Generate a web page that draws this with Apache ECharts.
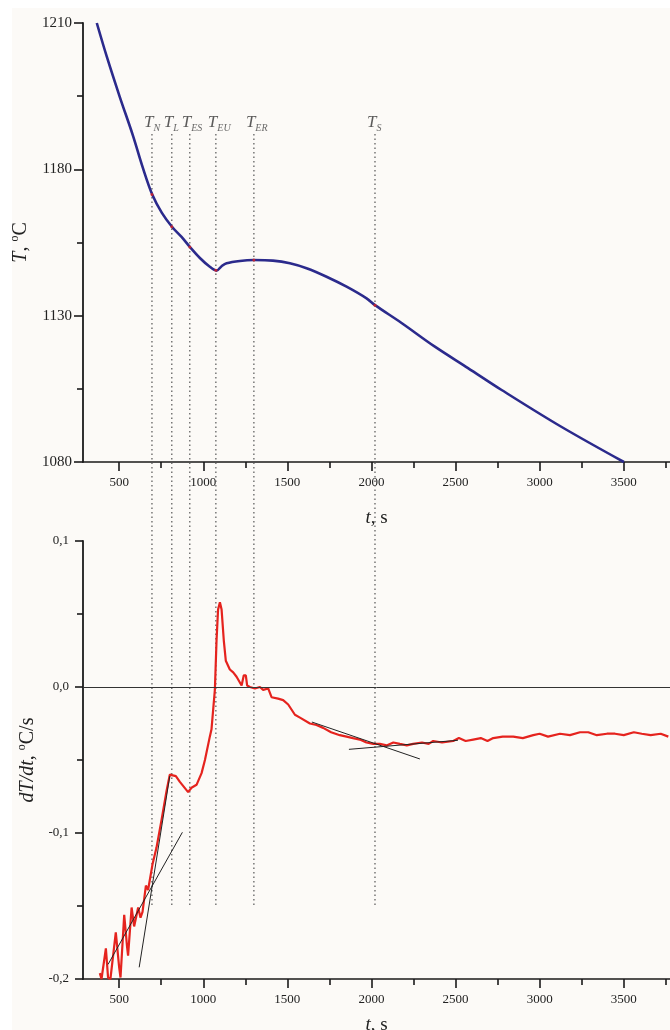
<!DOCTYPE html>
<html><head><meta charset="utf-8">
<script src="https://cdn.jsdelivr.net/npm/echarts@6/dist/echarts.min.js"></script>
<style>
html,body{margin:0;padding:0;background:#fff;}
#bg{position:absolute;left:12px;top:8px;width:658px;height:1022px;background:#fcfaf7;}
#chart{position:absolute;left:0;top:0;width:670px;height:1030px;}
</style></head><body>
<div id="bg"></div><div id="chart"></div>
<script>
// ---- data ----
const tempTimes  = [367, 427, 504, 581, 641, 698, 754, 815, 871, 920, 980, 1039, 1079, 1109, 1139, 1218, 1301, 1414, 1515, 1614, 1733, 1852, 1971, 2021, 2179, 2377, 2574, 2774, 3121, 3501];
const tempValues = [1230.0, 1218.4, 1204.7, 1191.7, 1180.5, 1171.2, 1165.1, 1160.3, 1156.9, 1153.5, 1149.7, 1146.7, 1145.4, 1146.9, 1147.9, 1148.7, 1149.0, 1148.8, 1147.9, 1146.2, 1143.3, 1139.9, 1135.9, 1133.6, 1127.5, 1119.4, 1112.1, 1104.6, 1092.3, 1080.0];

const rateTimes  = [385, 395, 421, 434, 448, 480, 500, 508, 530, 547, 553, 574, 589, 613, 627, 639, 659, 672, 682, 699, 722, 752, 782, 801, 837, 861, 910, 930, 960, 990, 1010, 1039, 1049, 1069, 1079, 1088, 1099, 1109, 1122, 1134, 1158, 1178, 1198, 1228, 1241, 1253, 1261, 1277, 1307, 1337, 1356, 1386, 1406, 1445, 1475, 1505, 1545, 1575, 1634, 1673, 1713, 1760, 1812, 1852, 1890, 1931, 1970, 2011, 2050, 2090, 2130, 2169, 2210, 2248, 2300, 2340, 2367, 2420, 2486, 2520, 2560, 2605, 2650, 2690, 2724, 2780, 2843, 2900, 2962, 3000, 3050, 3121, 3180, 3240, 3289, 3340, 3400, 3448, 3500, 3560, 3607, 3660, 3720, 3765];
const rateValues = [-0.196, -0.200, -0.179, -0.199, -0.200, -0.168, -0.192, -0.199, -0.156, -0.178, -0.184, -0.151, -0.164, -0.151, -0.158, -0.154, -0.136, -0.139, -0.138, -0.121, -0.110, -0.091, -0.071, -0.060, -0.061, -0.065, -0.072, -0.069, -0.067, -0.059, -0.050, -0.034, -0.029, -0.002, 0.032, 0.053, 0.058, 0.053, 0.032, 0.018, 0.012, 0.010, 0.007, 0.001, 0.008, 0.008, 0.001, 0.000, -0.001, 0.000, -0.002, -0.001, -0.007, -0.008, -0.009, -0.012, -0.019, -0.021, -0.025, -0.026, -0.028, -0.031, -0.033, -0.034, -0.035, -0.036, -0.038, -0.039, -0.039, -0.040, -0.038, -0.039, -0.040, -0.039, -0.038, -0.039, -0.037, -0.038, -0.037, -0.035, -0.037, -0.036, -0.035, -0.037, -0.035, -0.034, -0.034, -0.035, -0.033, -0.032, -0.034, -0.032, -0.033, -0.031, -0.031, -0.033, -0.032, -0.032, -0.033, -0.031, -0.032, -0.033, -0.032, -0.034];

const markTimes = [695, 813, 920, 1075, 1301, 2021];
const markNames = ['N', 'L', 'ES', 'EU', 'ER', 'S'];
const markTemps = [1171.4, 1160.4, 1153.5, 1145.5, 1149.0, 1133.6];

const tangentA = [[434, -0.190], [876, -0.0995]];
const tangentB = [[619, -0.192], [801, -0.061]];
const tangentC = [[1646, -0.024], [2288, -0.0493]];
const tangentD = [[1866, -0.0427], [2514, -0.0365]];

const xMajorTicks = [500, 1000, 1500, 2000, 2500, 3000, 3500];
const xMinorTicks = [750, 1250, 1750, 2250, 2750, 3250, 3750];
const tempTickValues = [1080, 1130, 1180, 1230];
const tempTickLabels = ['1080', '1130', '1180', '1210'];
const tempMinorTicks = [1105, 1155, 1205];
const rateTickValues = [-0.2, -0.1, 0, 0.1];
const rateTickLabels = ['-0,2', '-0,1', '0,0', '0,1'];
const rateMinorTicks = [-0.15, -0.05, 0.05];

const X_MIN = 285, X_MAX = 3775;
const FONT = "'Liberation Serif', 'DejaVu Serif', serif";
const INK = '#1a1a1a';

function labelFor(vals, labels) {
  return v => { const i = vals.findIndex(x => Math.abs(x - v) < 1e-9); return i >= 0 ? labels[i] : ''; };
}
const zip = (a, b) => a.map((x, i) => [x, b[i]]);

function mainX(grid, gap) {
  return {
    type: 'value', gridIndex: grid, position: 'bottom', min: X_MIN, max: X_MAX,
    axisLine: { show: true, onZero: false, lineStyle: { color: INK, width: 1.6 } },
    axisTick: { show: true, customValues: xMajorTicks, length: 9, lineStyle: { color: INK, width: 1.6 } },
    axisLabel: { show: true, customValues: xMajorTicks, formatter: v => String(Math.round(v)), margin: 14, fontFamily: FONT, fontSize: 13, color: '#222' },
    splitLine: { show: false },
    name: '{i|t}{n|, s}', nameLocation: 'middle', nameGap: gap,
    nameTextStyle: { rich: {
      i: { fontFamily: FONT, fontStyle: 'italic', fontSize: 19, color: '#222', lineHeight: 22 },
      n: { fontFamily: FONT, fontSize: 19, color: '#222', lineHeight: 22 } } }
  };
}
function minorX(grid) {
  return {
    type: 'value', gridIndex: grid, position: 'bottom', offset: 0, min: X_MIN, max: X_MAX,
    axisLine: { show: false, onZero: false },
    axisTick: { show: true, customValues: xMinorTicks, length: 6, lineStyle: { color: INK, width: 1.6 } },
    axisLabel: { show: false }, splitLine: { show: false }
  };
}
const yRich = {
  i: { fontFamily: FONT, fontStyle: 'italic', fontSize: 20, color: '#222', lineHeight: 24 },
  n: { fontFamily: FONT, fontSize: 20, color: '#222', lineHeight: 24 },
  s: { fontFamily: FONT, fontSize: 12, color: '#222', lineHeight: 12, verticalAlign: 'top' }
};

const option = {
  animation: false,
  backgroundColor: 'transparent',
  grid: [
    { left: 83, top: 23, width: 587, height: 439, outerBoundsMode: 'none' },
    { left: 83, top: 541, width: 587, height: 438, outerBoundsMode: 'none' },
    { left: 83, top: 133, width: 587, height: 772, outerBoundsMode: 'none' }
  ],
  xAxis: [
    mainX(0, 45), minorX(0), mainX(1, 35), minorX(1),
    { type: 'value', gridIndex: 2, min: X_MIN, max: X_MAX, show: false }
  ],
  yAxis: [
    {
      type: 'value', gridIndex: 0, position: 'left', min: 1080, max: 1230,
      axisLine: { show: true, onZero: false, lineStyle: { color: INK, width: 1.8 } },
      axisTick: { show: true, customValues: tempTickValues, length: 9, lineStyle: { color: INK, width: 1.6 } },
      axisLabel: { show: true, customValues: tempTickValues, formatter: labelFor(tempTickValues, tempTickLabels), margin: 11, fontFamily: FONT, fontSize: 15, color: '#222' },
      splitLine: { show: false },
      name: '{i|T}{n|, }{s|o}{n|C}', nameLocation: 'middle', nameRotate: 90, nameGap: 43,
      nameTextStyle: { rich: yRich }
    },
    {
      type: 'value', gridIndex: 0, position: 'left', offset: 0, min: 1080, max: 1230,
      axisLine: { show: false, onZero: false },
      axisTick: { show: true, customValues: tempMinorTicks, length: 6, lineStyle: { color: INK, width: 1.6 } },
      axisLabel: { show: false }, splitLine: { show: false }
    },
    {
      type: 'value', gridIndex: 1, position: 'left', min: -0.2, max: 0.1,
      axisLine: { show: true, onZero: false, lineStyle: { color: INK, width: 1.8 } },
      axisTick: { show: true, customValues: rateTickValues, length: 8, lineStyle: { color: INK, width: 1.6 } },
      axisLabel: { show: true, customValues: rateTickValues, formatter: labelFor(rateTickValues, rateTickLabels), margin: 14, fontFamily: FONT, fontSize: 13, color: '#222' },
      splitLine: { show: false },
      name: '{i|dT/dt}{n|, }{s|o}{n|C/s}', nameLocation: 'middle', nameRotate: 90, nameGap: 43,
      nameTextStyle: { rich: yRich }
    },
    {
      type: 'value', gridIndex: 1, position: 'left', offset: 0, min: -0.2, max: 0.1,
      axisLine: { show: false, onZero: false },
      axisTick: { show: true, customValues: rateMinorTicks, length: 6, lineStyle: { color: INK, width: 1.6 } },
      axisLabel: { show: false }, splitLine: { show: false }
    },
    { type: 'value', gridIndex: 2, min: 0, max: 1, show: false }
  ],
  series: [
    ...markTimes.map(t => ({
      type: 'line', xAxisIndex: 4, yAxisIndex: 4, data: [[t, 0], [t, 1]],
      symbol: 'none', silent: true, z: 1,
      lineStyle: { color: '#555', width: 1.2, type: [1.5, 3] }
    })),
    {
      type: 'scatter', xAxisIndex: 4, yAxisIndex: 4, symbolSize: 0, silent: true, z: 5,
      data: markTimes.map((t, i) => ({ value: [t, 1], name: markNames[i] })),
      label: {
        show: true, position: 'top', distance: 0, align: 'left', offset: [-8, 0],
        formatter: p => '{a|T}{b|' + p.name + '}',
        rich: {
          a: { fontFamily: FONT, fontStyle: 'italic', fontSize: 17, color: '#333', lineHeight: 20 },
          b: { fontFamily: FONT, fontStyle: 'italic', fontSize: 10, color: '#444', lineHeight: 10, verticalAlign: 'bottom' }
        }
      }
    },
    {
      type: 'line', xAxisIndex: 0, yAxisIndex: 0, data: zip(tempTimes, tempValues),
      smooth: 0.35, symbol: 'none', z: 3,
      lineStyle: { color: '#2b2a8c', width: 2.6 }
    },
    {
      type: 'scatter', xAxisIndex: 0, yAxisIndex: 0, data: zip(markTimes, markTemps),
      symbolSize: 3, itemStyle: { color: '#e02020' }, z: 4, silent: true
    },
    {
      type: 'line', xAxisIndex: 2, yAxisIndex: 2, data: zip(rateTimes, rateValues),
      symbol: 'none', z: 3,
      lineStyle: { color: '#e5231e', width: 2.2 },
      markLine: {
        silent: true, symbol: 'none', label: { show: false },
        lineStyle: { color: '#333', width: 1, type: 'solid' },
        data: [{ yAxis: 0 }]
      }
    },
    ...[tangentA, tangentB, tangentC, tangentD].map(seg => ({
      type: 'line', xAxisIndex: 2, yAxisIndex: 2, data: seg, symbol: 'none', z: 4, silent: true,
      lineStyle: { color: '#222', width: 1 }
    }))
  ]
};
const chart = echarts.init(document.getElementById('chart'), null, { renderer: 'canvas' });
chart.setOption(option);
</script>
</body></html>
